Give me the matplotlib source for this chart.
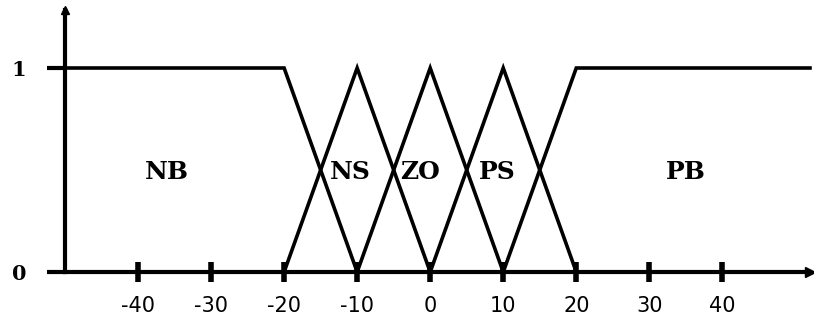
import matplotlib
matplotlib.use("Agg")
import matplotlib.pyplot as plt

# Fuzzy sets on the error universe: breakpoints and membership degrees
set_names = ["NB", "NS", "ZO", "PS", "PB"]
nb_x, nb_mu = [-50, -20, -10], [1, 1, 0]
ns_x, ns_mu = [-20, -10, 0], [0, 1, 0]
zo_x, zo_mu = [-10, 0, 10], [0, 1, 0]
ps_x, ps_mu = [0, 10, 20], [0, 1, 0]
pb_x, pb_mu = [10, 20, 52], [0, 1, 1]

x_ticks = [-40, -30, -20, -10, 0, 10, 20, 30, 40]
x_tick_labels = ["-40", "-30", "-20", "-10", "0", "10", "20", "30", "40"]
y_ticks = [0, 1]
y_tick_labels = ["0", "1"]

# where each set's name is written
label_x = [-36, -11, -1.4, 9.2, 35]
label_y = 0.49

fig = plt.figure(figsize=(8.14, 3.24), dpi=100)
ax = fig.add_axes([65 / 814, 52 / 324, 745 / 814, 262 / 324])
ax.set_xlim(-50, 52)
ax.set_ylim(0, 262 / 204)

for xs, mus in [(nb_x, nb_mu), (ns_x, ns_mu), (zo_x, zo_mu),
                (ps_x, ps_mu), (pb_x, pb_mu)]:
    ax.plot(xs, mus, color="black", lw=2.6, clip_on=False,
            solid_joinstyle="miter")

for name, lx in zip(set_names, label_x):
    ax.text(lx, label_y, name, ha="center", va="center",
            fontsize=18, fontweight="bold", family="DejaVu Serif")

# axes as thick arrows
for side in ["top", "right"]:
    ax.spines[side].set_visible(False)
for side in ["left", "bottom"]:
    ax.spines[side].set_linewidth(3.0)
ax.plot(1, 0, ">", color="black", ms=7, transform=ax.get_yaxis_transform(),
        clip_on=False)
ax.plot(-50, 1, "^", color="black", ms=6, transform=ax.get_xaxis_transform(),
        clip_on=False)

ax.set_xticks(x_ticks)
ax.set_xticklabels(x_tick_labels, fontsize=15, family="DejaVu Sans")
ax.tick_params(axis="x", direction="inout", length=14, width=4, pad=10)

ax.set_yticks(y_ticks)
ax.set_yticklabels(y_tick_labels, fontsize=15, fontweight="bold",
                   family="DejaVu Serif")
ax.tick_params(axis="y", direction="out", length=13, width=3, pad=15)

fig.savefig("out.png", dpi=100, facecolor="white")
